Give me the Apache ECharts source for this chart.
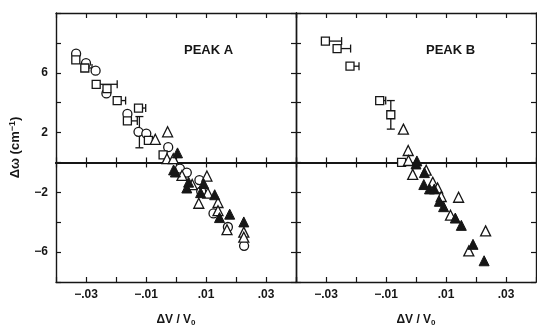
<!DOCTYPE html>
<html>
<head>
<meta charset="utf-8">
<script src="https://cdn.jsdelivr.net/npm/echarts@6/dist/echarts.min.js"></script>
<style>
  html, body { margin: 0; padding: 0; background: #fff; }
  #chart { width: 537px; height: 327px; }
</style>
</head>
<body>
<div id="chart"></div>
<script>
// Frequency shift vs. relative volume change, two Raman peaks.
const xTickValues = [-0.03, -0.01, 0.01, 0.03];
const xTickLabels = ['−.03', '−.01', '.01', '.03'];
const yTickValues = [6, 2, -2, -6];
const yTickLabels = ['6', '2', '−2', '−6'];

// Peak A
const peakACircles = [
  [-0.0333, 7.28], [-0.0300, 6.64], [-0.0268, 6.14], [-0.0232, 4.62], [-0.0162, 3.25],
  [-0.0125, 2.05], [-0.0099, 1.93], [-0.0026, 1.02], [0.0013, -0.41], [0.0036, -0.68],
  [0.0078, -1.18], [0.0084, -1.93], [0.0125, -3.41], [0.0173, -4.32], [0.0227, -5.58]
];
const peakASquares = [
  [-0.0334, 6.87], [-0.0304, 6.32], [-0.0266, 5.23], [-0.0230, 4.94], [-0.0196, 4.14],
  [-0.0162, 2.78], [-0.0125, 3.64], [-0.0092, 1.48], [-0.0043, 0.50]
];
const peakAOpenTri = [
  [-0.0028, 2.05], [-0.0069, 1.55], [-0.0030, 0.25], [-0.0009, 0.25], [0.0020, -0.87],
  [0.0054, -1.48], [0.0103, -0.91], [0.0106, -2.05], [0.0076, -2.73], [0.0140, -2.68],
  [0.0140, -3.23], [0.0170, -4.50], [0.0226, -4.66], [0.0226, -5.00]
];
const peakAFilledTri = [
  [0.0005, 0.64], [-0.0002, -0.64], [-0.0008, -0.50], [0.0042, -1.32], [0.0036, -1.71],
  [0.0092, -1.41], [0.0082, -2.02], [0.0129, -2.16], [0.0145, -3.69], [0.0179, -3.46],
  [0.0226, -3.98]
];
// [x, y, x at right end of bar]
const peakAHorizErr = [
  [-0.0304, 6.32, -0.0280], [-0.0266, 5.23, -0.0196], [-0.0196, 4.14, -0.0168],
  [-0.0125, 3.64, -0.0101], [-0.0162, 2.78, -0.0129]
];
// [x, y low, y high]
const peakAVertErr = [[-0.0122, 0.98, 3.07]];

// Peak B
const peakBSquares = [
  [-0.0302, 8.12], [-0.0263, 7.62], [-0.0220, 6.44], [-0.0121, 4.14], [-0.0084, 3.19],
  [-0.0048, 0.00]
];
const peakBOpenTri = [
  [-0.0042, 2.23], [-0.0026, 0.80], [-0.0025, 0.13], [-0.0011, -0.80], [0.0034, -0.52],
  [0.0056, -1.32], [0.0072, -1.71], [0.0084, -2.28], [0.0142, -2.33], [0.0115, -3.53],
  [0.0232, -4.58], [0.0176, -5.92]
];
const peakBFilledTri = [
  [0.0003, 0.10], [0.0000, -0.10], [0.0028, -0.68], [0.0026, -1.48], [0.0045, -1.77],
  [0.0061, -1.77], [0.0078, -2.60], [0.0092, -2.96], [0.0131, -3.72], [0.0151, -4.21],
  [0.0190, -5.48], [0.0227, -6.58]
];
const peakBHorizErr = [
  [-0.0302, 8.12, -0.0248], [-0.0263, 7.62, -0.0218], [-0.0220, 6.44, -0.0190],
  [-0.0121, 4.14, -0.0101]
];
const peakBVertErr = [[-0.0084, 2.23, 4.14]];

const INK = '#161616';
const FONT = 'Liberation Sans, Arial, sans-serif';

function fmtX(v) {
  for (let i = 0; i < xTickValues.length; i++) {
    if (Math.abs(v - xTickValues[i]) < 1e-6) return xTickLabels[i];
  }
  return '';
}
function fmtY(v) {
  for (let i = 0; i < yTickValues.length; i++) {
    if (Math.abs(v - yTickValues[i]) < 1e-6) return yTickLabels[i];
  }
  return '';
}

const lineStyle = { color: INK, width: 1.4 };
const tickStyle = { color: INK, width: 1.2 };

function xAxesFor(gi, yZeroIndex) {
  const base = {
    type: 'value', gridIndex: gi, min: -0.04, max: 0.04, interval: 0.01,
    splitLine: { show: false }, axisLabel: { show: false },
    axisLine: { show: true, onZero: false, lineStyle: lineStyle },
    axisTick: { show: true, inside: true, length: 5, lineStyle: tickStyle }
  };
  return [
    Object.assign({}, base, {
      position: 'bottom',
      axisLabel: {
        show: true, formatter: fmtX, color: INK, fontFamily: FONT,
        fontSize: 12, fontWeight: 'bold', margin: 7, showMinLabel: true, showMaxLabel: true
      },
      name: 'ΔV / V{sub|0}', nameLocation: 'middle', nameGap: 31,
      nameTextStyle: {
        color: INK, fontFamily: FONT, fontSize: 12, fontWeight: 'bold',
        rich: { sub: { fontSize: 8, fontWeight: 'bold', fontFamily: FONT, color: INK, verticalAlign: 'bottom', padding: [6, 0, 0, 0] } }
      }
    }),
    Object.assign({}, base, { position: 'top' }),
    Object.assign({}, base, {
      position: 'bottom',
      axisLine: { show: true, onZero: true, onZeroAxisIndex: yZeroIndex, lineStyle: { color: INK, width: 2 } },
      axisTick: { show: true, inside: true, length: 5, lineStyle: tickStyle }
    }),
    Object.assign({}, base, {
      position: 'bottom',
      axisLine: { show: true, onZero: true, onZeroAxisIndex: yZeroIndex, lineStyle: { color: INK, width: 2 } },
      axisTick: { show: true, inside: false, length: 5, lineStyle: tickStyle }
    })
  ];
}

function yAxesFor(gi, withLabels) {
  const base = {
    type: 'value', gridIndex: gi, min: -8, max: 10, interval: 2,
    splitLine: { show: false }, axisLabel: { show: false },
    axisLine: { show: true, onZero: false, lineStyle: lineStyle },
    axisTick: { show: true, inside: true, length: 5, lineStyle: tickStyle }
  };
  const left = Object.assign({}, base, { position: 'left' });
  if (withLabels) {
    left.axisLabel = {
      show: true, formatter: fmtY, color: INK, fontFamily: FONT,
      fontSize: 12, fontWeight: 'bold', margin: 8
    };
    left.name = 'Δω (cm{sup|−1})';
    left.nameLocation = 'middle';
    left.nameRotate = 90;
    left.nameGap = 33;
    left.nameTextStyle = {
      color: INK, fontFamily: FONT, fontSize: 13, fontWeight: 'bold',
      rich: { sup: { fontSize: 9, fontWeight: 'bold', fontFamily: FONT, color: INK, verticalAlign: 'top', padding: [0, 0, 6, 0] } }
    };
  }
  return [left, Object.assign({}, base, { position: 'right' })];
}

function scatter(data, gi, symbol, filled, size) {
  return {
    type: 'scatter', xAxisIndex: gi * 4, yAxisIndex: gi * 2, data: data,
    symbol: symbol, symbolSize: size, z: 5,
    itemStyle: filled
      ? { color: INK, borderColor: INK, borderWidth: 1, opacity: 1 }
      : { color: '#fff', borderColor: INK, borderWidth: 1.3, opacity: 1 },
    emphasis: { disabled: true }, silent: true
  };
}

function seg(a, b) {
  return { type: 'line', shape: { x1: a[0], y1: a[1], x2: b[0], y2: b[1] }, style: { stroke: INK, lineWidth: 1.3 } };
}

function horizErr(data, gi) {
  return {
    type: 'custom', xAxisIndex: gi * 4, yAxisIndex: gi * 2, data: data, z: 3, silent: true,
    renderItem: function (params, api) {
      const p0 = api.coord([api.value(0), api.value(1)]);
      const p1 = api.coord([api.value(2), api.value(1)]);
      return { type: 'group', children: [
        seg(p0, p1),
        seg([p1[0], p1[1] - 4], [p1[0], p1[1] + 4])
      ] };
    }
  };
}

function vertErr(data, gi) {
  return {
    type: 'custom', xAxisIndex: gi * 4, yAxisIndex: gi * 2, data: data, z: 3, silent: true,
    renderItem: function (params, api) {
      const lo = api.coord([api.value(0), api.value(1)]);
      const hi = api.coord([api.value(0), api.value(2)]);
      return { type: 'group', children: [
        seg(lo, hi),
        seg([lo[0] - 4, lo[1]], [lo[0] + 4, lo[1]]),
        seg([hi[0] - 4, hi[1]], [hi[0] + 4, hi[1]])
      ] };
    }
  };
}

const chart = echarts.init(document.getElementById('chart'), null, { renderer: 'canvas' });
chart.setOption({
  backgroundColor: '#fff',
  animation: false,
  grid: [
    { left: 56, top: 13, width: 240, height: 269, outerBoundsMode: 'none', containLabel: false },
    { left: 296, top: 13, width: 240, height: 269, outerBoundsMode: 'none', containLabel: false }
  ],
  xAxis: xAxesFor(0, 0).concat(xAxesFor(1, 2)),
  yAxis: yAxesFor(0, true).concat(yAxesFor(1, false)),
  graphic: [
    { type: 'text', left: 184, top: 44, style: { text: 'PEAK A', fill: INK, font: 'bold 13px ' + FONT } },
    { type: 'text', left: 426, top: 44, style: { text: 'PEAK B', fill: INK, font: 'bold 13px ' + FONT } }
  ],
  series: [
    horizErr(peakAHorizErr, 0),
    vertErr(peakAVertErr, 0),
    scatter(peakACircles, 0, 'circle', false, 9),
    scatter(peakASquares, 0, 'rect', false, 8),
    scatter(peakAOpenTri, 0, 'triangle', false, 10),
    scatter(peakAFilledTri, 0, 'triangle', true, 10),
    horizErr(peakBHorizErr, 1),
    vertErr(peakBVertErr, 1),
    scatter(peakBSquares, 1, 'rect', false, 8),
    scatter(peakBOpenTri, 1, 'triangle', false, 10),
    scatter(peakBFilledTri, 1, 'triangle', true, 10)
  ]
});
</script>
</body>
</html>
